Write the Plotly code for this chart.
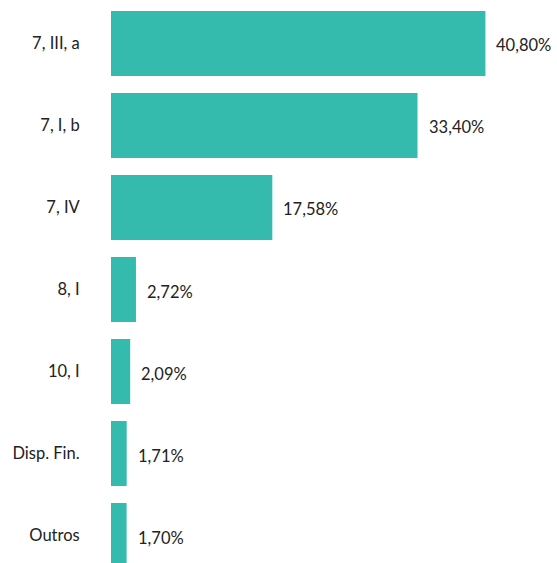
import plotly.graph_objects as go

categories = ["7, III, a", "7, I, b", "7, IV", "8, I", "10, I", "Disp. Fin.", "Outros"]
values = [40.80, 33.40, 17.58, 2.72, 2.09, 1.71, 1.70]
value_labels = ["40,80%", "33,40%", "17,58%", "2,72%", "2,09%", "1,71%", "1,70%"]

BAR_COLOR = "#35BBAD"
TEXT_COLOR = "#222222"
FONT = "Lato, 'Open Sans', sans-serif"
FONT_SIZE = 16.5

fig = go.Figure(
    go.Bar(
        x=values,
        y=categories,
        orientation="h",
        marker=dict(color=BAR_COLOR, line=dict(width=0)),
        hoverinfo="skip",
    )
)

# value labels placed just past each bar end
for cat, val, lab in zip(categories, values, value_labels):
    fig.add_annotation(
        x=val, y=cat, text=lab, showarrow=False,
        xanchor="left", yanchor="middle", xshift=9, yshift=-2,
        font=dict(family=FONT, size=FONT_SIZE, color=TEXT_COLOR),
    )

fig.update_layout(
    width=557, height=563,
    margin=dict(l=111, r=0, t=0, b=0),
    paper_bgcolor="white", plot_bgcolor="white",
    bargap=0.207,
    showlegend=False,
    font=dict(family=FONT, size=FONT_SIZE, color=TEXT_COLOR),
    xaxis=dict(range=[0, 48.6], visible=False, fixedrange=True),
    yaxis=dict(
        type="category",
        categoryorder="array", categoryarray=categories,
        range=[6.335, -0.53],
        showgrid=False, zeroline=False, showline=False,
        ticks="outside", ticklen=0, tickcolor="white",
        ticklabelstandoff=27,
        tickfont=dict(family=FONT, size=FONT_SIZE, color=TEXT_COLOR),
        fixedrange=True,
    ),
)

fig.write_html("out.html", config={"displayModeBar": False})
